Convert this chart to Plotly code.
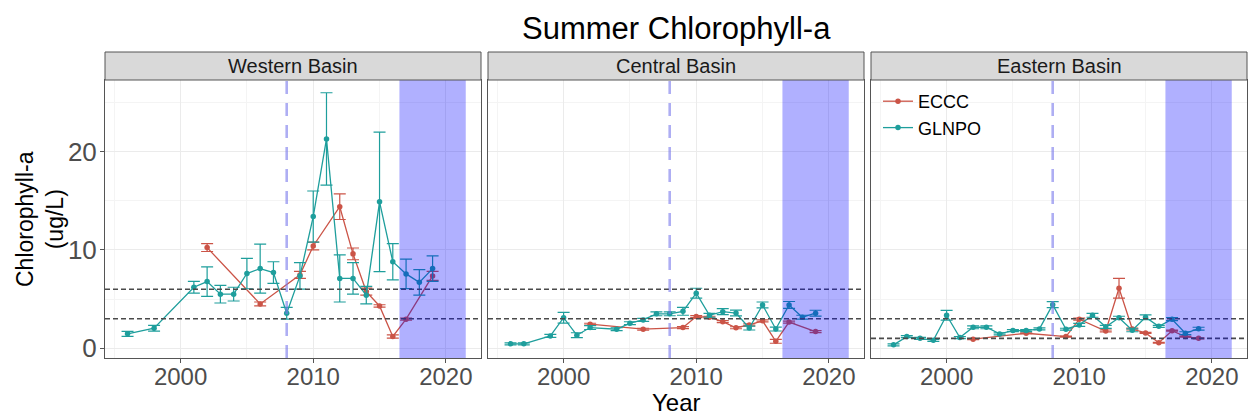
import plotly.graph_objects as go

# ---------------- data ----------------
basins = ["Western Basin", "Central Basin", "Eastern Basin"]

west_glnpo_years = [1996, 1998, 2001, 2002, 2003, 2004, 2005, 2006, 2007, 2008, 2009,
                    2010, 2011, 2012, 2013, 2014, 2015, 2016, 2017, 2018, 2019]
west_glnpo = [1.46, 2.03, 6.2, 6.78, 5.5, 5.5, 7.6, 8.1, 7.7, 3.56, 7.36,
              13.4, 21.3, 7.1, 7.1, 5.4, 14.9, 8.8, 7.56, 6.7, 8.1]
west_glnpo_err = [0.25, 0.3, 0.6, 1.5, 0.9, 0.7, 1.55, 2.5, 1.1, 0.6, 1.35,
                  2.6, 4.7, 2.4, 1.6, 0.9, 7.1, 1.85, 1.5, 1.3, 1.3]

west_eccc_years = [2002, 2006, 2009, 2010, 2012, 2013, 2014, 2015, 2016, 2017, 2019]
west_eccc = [10.24, 4.5, 7.46, 10.4, 14.4, 9.6, 5.76, 4.3, 1.19, 2.95, 7.36]
west_eccc_err = [0.4, 0.2, 0.35, 0.4, 1.3, 0.6, 0.35, 0.12, 0.17, 0.1, 0.45]

central_glnpo_years = [1996, 1997, 1999, 2000, 2001, 2002, 2004, 2005, 2006, 2007, 2008,
                       2009, 2010, 2011, 2012, 2013, 2014, 2015, 2016, 2017, 2018, 2019]
central_glnpo = [0.44, 0.44, 1.25, 3.1, 1.32, 2.1, 1.93, 2.54, 2.88, 3.5, 3.5,
                 3.75, 5.6, 3.35, 3.72, 3.58, 2.05, 4.4, 1.95, 4.4, 3.15, 3.56]
central_glnpo_err = [0.1, 0.1, 0.15, 0.55, 0.25, 0.2, 0.15, 0.15, 0.15, 0.2, 0.2,
                     0.4, 0.5, 0.2, 0.3, 0.3, 0.2, 0.3, 0.2, 0.35, 0.2, 0.3]

central_eccc_years = [2002, 2006, 2009, 2010, 2011, 2012, 2013, 2014, 2015, 2016, 2017, 2019]
central_eccc = [2.44, 1.93, 2.1, 3.22, 3.15, 2.7, 2.08, 2.37, 2.78, 0.7, 2.66, 1.69]
central_eccc_err = [0.1, 0.1, 0.1, 0.1, 0.1, 0.1, 0.1, 0.1, 0.1, 0.2, 0.1, 0.1]

east_glnpo_years = [1996, 1997, 1998, 1999, 2000, 2001, 2002, 2003, 2004, 2005, 2006, 2007,
                    2008, 2009, 2010, 2011, 2012, 2013, 2014, 2015, 2016, 2017, 2018, 2019]
east_glnpo = [0.34, 1.18, 1.0, 0.8, 3.35, 1.08, 2.13, 2.13, 1.45, 1.79, 1.79, 1.96,
              4.43, 1.93, 2.37, 3.35, 2.17, 3.1, 1.82, 3.15, 2.22, 2.95, 1.52, 1.98]
east_glnpo_err = [0.1, 0.1, 0.1, 0.1, 0.5, 0.1, 0.15, 0.15, 0.1, 0.1, 0.1, 0.1,
                  0.3, 0.1, 0.15, 0.2, 0.15, 0.15, 0.15, 0.25, 0.1, 0.15, 0.15, 0.15]

east_eccc_years = [2002, 2006, 2009, 2010, 2012, 2013, 2014, 2015, 2016, 2017, 2018, 2019]
east_eccc = [0.92, 1.52, 1.18, 2.95, 1.75, 6.1, 1.95, 1.55, 0.55, 1.78, 1.18, 1.0]
east_eccc_err = [0.05, 0.05, 0.05, 0.1, 0.1, 1.0, 0.1, 0.05, 0.05, 0.05, 0.05, 0.05]

thresholds = [[6, 3], [6, 3], [3, 1]]
ref_year = 2008
shade_years = [2016.5, 2021.5]
x_ticks = [2000, 2010, 2020]
y_ticks = [0, 10, 20]

series = [
    (west_eccc_years, west_eccc, west_eccc_err, west_glnpo_years, west_glnpo, west_glnpo_err),
    (central_eccc_years, central_eccc, central_eccc_err, central_glnpo_years, central_glnpo, central_glnpo_err),
    (east_eccc_years, east_eccc, east_eccc_err, east_glnpo_years, east_glnpo, east_glnpo_err),
]

# ---------------- styling ----------------
RED = "#CB5447"
TEAL = "#1E9E9C"
W, H = 1250, 418
ML, MR, MT, MB = 105, 3, 80, 60
plot_w = W - ML - MR
plot_h = H - MT - MB
panel_w = 376
gap = 7
domains = []
for i in range(3):
    a = i * (panel_w + gap) / plot_w
    b = (i * (panel_w + gap) + panel_w) / plot_w
    domains.append([a, min(b, 1.0)])


def py(px_from_top):
    """convert a pixel row (from top of figure) to paper y"""
    return (MT + plot_h - px_from_top) / plot_h


def px(px_from_left):
    return (px_from_left - ML) / plot_w


fig = go.Figure()

for i, (ey, ev, ee, gy, gv, ge) in enumerate(series):
    xa = "x" if i == 0 else f"x{i+1}"
    ya = "y" if i == 0 else f"y{i+1}"
    fig.add_trace(go.Scatter(
        x=ey, y=ev, mode="lines+markers", name="ECCC", legendgroup="ECCC",
        showlegend=(i == 0), xaxis=xa, yaxis=ya,
        line=dict(color=RED, width=1.3), marker=dict(color=RED, size=5.5),
        error_y=dict(type="data", array=ee, color=RED, thickness=1.2, width=6),
    ))
    fig.add_trace(go.Scatter(
        x=gy, y=gv, mode="lines+markers", name="GLNPO", legendgroup="GLNPO",
        showlegend=(i == 0), xaxis=xa, yaxis=ya,
        line=dict(color=TEAL, width=1.3), marker=dict(color=TEAL, size=5.5),
        error_y=dict(type="data", array=ge, color=TEAL, thickness=1.2, width=6),
    ))

shapes = []
annotations = []
strip_top = py(52)
for i in range(3):
    xr = "x" if i == 0 else f"x{i+1}"
    yr = "y" if i == 0 else f"y{i+1}"
    for t in thresholds[i]:
        shapes.append(dict(type="line", xref=f"{xr} domain", yref=yr, x0=0, x1=1, y0=t, y1=t,
                           line=dict(color="#4a4a4a", width=1.6, dash="5px,3px"), layer="above"))
    shapes.append(dict(type="line", xref=xr, yref=f"{yr} domain", x0=ref_year, x1=ref_year, y0=0, y1=1,
                       line=dict(color="rgba(120,120,235,0.6)", width=2.6, dash="13px,9px"), layer="above"))
    shapes.append(dict(type="rect", xref=xr, yref=f"{yr} domain", x0=shade_years[0], x1=shade_years[1],
                       y0=0, y1=1, fillcolor="rgba(0,0,255,0.31)", line=dict(width=0), layer="above"))
    shapes.append(dict(type="rect", xref="paper", yref="paper", x0=domains[i][0], x1=domains[i][1],
                       y0=1.0, y1=strip_top, fillcolor="#d9d9d9", line=dict(color="#555555", width=1),
                       layer="above"))
    annotations.append(dict(text=basins[i], xref="paper", yref="paper",
                            x=(domains[i][0] + domains[i][1]) / 2, y=(1 + strip_top) / 2,
                            xanchor="center", yanchor="middle", showarrow=False,
                            font=dict(size=20, color="#1a1a1a")))

annotations.append(dict(text="Chlorophyll-a<br>(ug/L)", xref="paper", yref="paper",
                        x=px(40), y=0.5, xanchor="center", yanchor="middle",
                        textangle=-90, showarrow=False, font=dict(size=23, color="black")))
annotations.append(dict(text="Year", xref="paper", yref="paper",
                        x=0.5, y=py(418), showarrow=False,
                        xanchor="center", yanchor="bottom", font=dict(size=24, color="black")))
annotations.append(dict(text="Summer Chlorophyll-a", xref="paper", yref="paper",
                        x=0.5, y=py(28), showarrow=False,
                        xanchor="center", yanchor="middle", font=dict(size=31, color="black")))

axis_common = dict(
    showline=True, linecolor="#555555", linewidth=1, mirror=True,
    gridcolor="#ebebeb", gridwidth=1, zeroline=False,
    ticks="outside", ticklen=4, tickcolor="#555555",
    tickfont=dict(size=24, color="#4d4d4d"),
)
layout = dict(
    width=W, height=H, margin=dict(l=ML, r=MR, t=MT, b=MB),
    paper_bgcolor="white", plot_bgcolor="white",
    font=dict(family="Liberation Sans, Arial, sans-serif"),
    showlegend=True,
    legend=dict(x=px(878), y=py(83), xanchor="left", yanchor="top",
                bgcolor="rgba(0,0,0,0)", font=dict(size=18, color="black"),
                tracegroupgap=0, itemwidth=30),
    shapes=shapes, annotations=annotations,
)
for i in range(3):
    xk = "xaxis" if i == 0 else f"xaxis{i+1}"
    yk = "yaxis" if i == 0 else f"yaxis{i+1}"
    layout[xk] = dict(axis_common, domain=domains[i], range=[1994.3, 2022.65],
                      tickvals=x_ticks, anchor="y" if i == 0 else f"y{i+1}",
                      ticklabelstandoff=-7,
                      minor=dict(dtick=5, tick0=1995, showgrid=True, gridcolor="#f4f4f4", ticks=""))
    layout[yk] = dict(axis_common, domain=[0, 1], range=[-1.0, 27.3], tickvals=y_ticks,
                      anchor="x" if i == 0 else f"x{i+1}", showticklabels=(i == 0),
                      ticks="outside" if i == 0 else "",
                      tickfont=dict(size=26, color="#4d4d4d"),
                      ticklabelstandoff=-2,
                      minor=dict(dtick=5, tick0=0, showgrid=True, gridcolor="#f4f4f4", ticks=""))
    if i > 0:
        layout[yk]["matches"] = "y"
fig.update_layout(**layout)
fig.write_html("out.html")
